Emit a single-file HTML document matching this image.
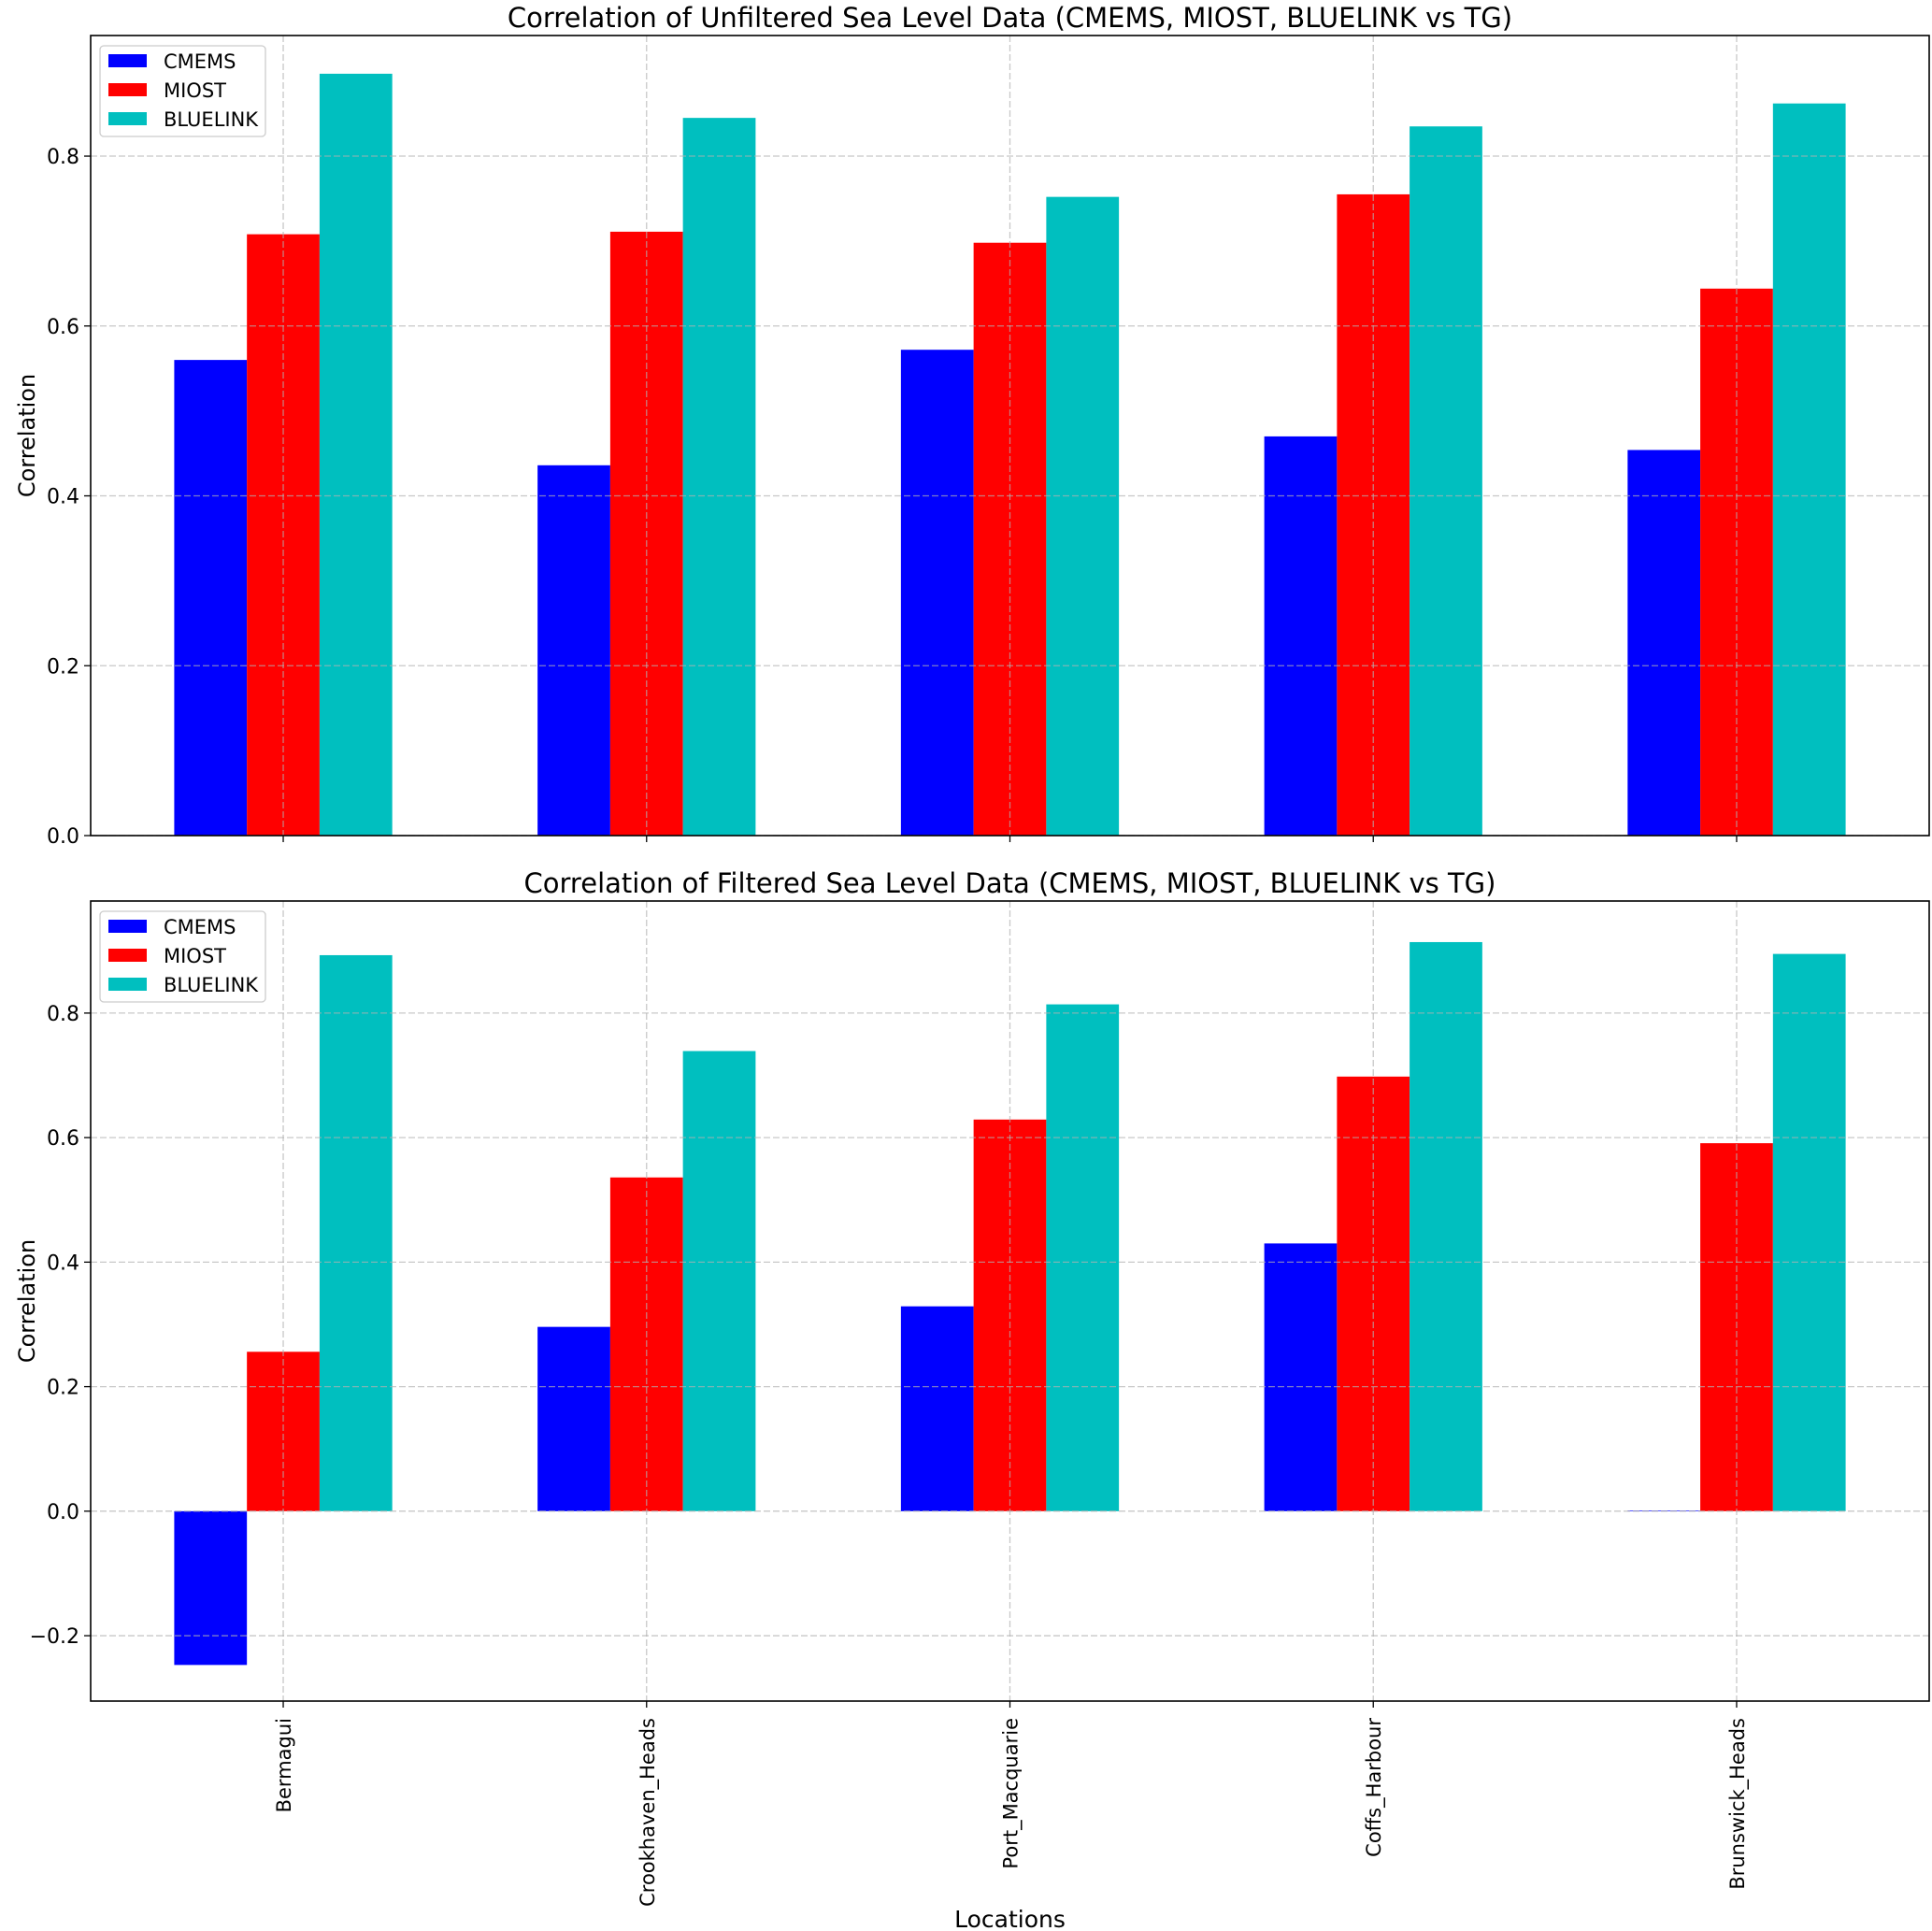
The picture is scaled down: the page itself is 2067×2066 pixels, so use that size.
<!DOCTYPE html>
<html><head><meta charset="utf-8"><style>
html,body{margin:0;padding:0;background:#fff}
svg{display:block;font-family:"DejaVu Sans","Liberation Sans",sans-serif}
</style></head><body>
<svg id="chart" width="2067" height="2066" viewBox="0 0 2067 2066" xmlns="http://www.w3.org/2000/svg"></svg>
<script>
const categories = ["Bermagui","Crookhaven_Heads","Port_Macquarie","Coffs_Harbour","Brunswick_Heads"];
const seriesNames = ["CMEMS","MIOST","BLUELINK"];
const unfilteredCMEMS = [0.560,0.436,0.572,0.470,0.454];
const unfilteredMIOST = [0.708,0.711,0.698,0.755,0.644];
const unfilteredBLUELINK = [0.897,0.845,0.752,0.835,0.862];
const filteredCMEMS = [-0.247,0.296,0.329,0.430,0.001];
const filteredMIOST = [0.256,0.536,0.629,0.698,0.591];
const filteredBLUELINK = [0.893,0.739,0.814,0.914,0.895];
const topTicks = [0.0,0.2,0.4,0.6,0.8];
const bottomTicks = [-0.2,0.0,0.2,0.4,0.6,0.8];
const colors = ["#0000ff","#ff0000","#00bfbf"];

const svg = document.getElementById('chart');
const NS = 'http://www.w3.org/2000/svg';
function mk(tag, attrs, parent){const e=document.createElementNS(NS,tag);for(const k in attrs)e.setAttribute(k,attrs[k]);(parent||svg).appendChild(e);return e;}

const L=97, R=2064, xmin=-0.53, xmax=4.53;
function xs(v){return L+(v-xmin)/(xmax-xmin)*(R-L);}

function panel(cfg){
  const g=mk('g',{});
  
  
  const ys=v=>cfg.bot-(v-cfg.ymin)/(cfg.ymax-cfg.ymin)*(cfg.bot-cfg.top);
  // bars
  cfg.series.forEach((arr,s)=>{
    arr.forEach((v,i)=>{
      const x0=xs(i+(s-1)*0.2-0.1), x1=xs(i+(s-1)*0.2+0.1);
      const y0=ys(0), y1=ys(v);
      const b=mk('rect',{x:x0,y:Math.min(y0,y1),width:x1-x0,height:Math.max(Math.abs(y1-y0),0.5),fill:colors[s]},g);
      
      
    });
  });
  // grid
  categories.forEach((c,i)=>{
    const x=xs(i);
    const gl=mk('line',{x1:x,x2:x,y1:cfg.top,y2:cfg.bot,stroke:'#b0b0b0','stroke-width':1.3,'stroke-dasharray':'7,3','stroke-opacity':0.7},g);
    
    
  });
  cfg.ticks.forEach(t=>{
    const y=ys(t);
    const gl=mk('line',{x1:L,x2:R,y1:y,y2:y,stroke:'#b0b0b0','stroke-width':1.3,'stroke-dasharray':'7,3','stroke-opacity':0.7},g);
    
    
  });
  // frame
  const fr=mk('rect',{x:L,y:cfg.top,width:R-L,height:cfg.bot-cfg.top,fill:'none',stroke:'#000','stroke-width':1.6},g);
  
  
  // y ticks
  cfg.ticks.forEach(t=>{
    const y=ys(t);
    mk('line',{x1:L-7,x2:L,y1:y,y2:y,stroke:'#000','stroke-width':1.3},g);
    const tx=mk('text',{x:L-12,y:y+8,'text-anchor':'end','font-size':22,fill:'#000'},g);
    tx.textContent=(t<0?'\u2212':'')+Math.abs(t).toFixed(1);
    
    
  });
  // x ticks
  categories.forEach((c,i)=>{
    const x=xs(i);
    mk('line',{x1:x,x2:x,y1:cfg.bot,y2:cfg.bot+7,stroke:'#000','stroke-width':1.3},g);
    if(cfg.labels){
      const tx=mk('text',{x:0,y:0,'text-anchor':'end','font-size':21,fill:'#000',transform:`translate(${x+8},${cfg.bot+18}) rotate(-90)`},g);
      tx.textContent=c;
      
      
    }
  });
  // title
  const ti=mk('text',{x:(L+R)/2,y:cfg.top-9,'text-anchor':'middle','font-size':29,fill:'#000'},g);
  ti.textContent=cfg.title;
  
  
  // y label
  const yl=mk('text',{x:0,y:0,'text-anchor':'middle','font-size':24,fill:'#000',transform:`translate(37,${(cfg.top+cfg.bot)/2}) rotate(-90)`},g);
  yl.textContent='Correlation';
  
  
  // legend
  const lg=mk('g',{},g);
  
  
  mk('rect',{x:107,y:cfg.top+11,width:177,height:97,rx:4,fill:'#fff','fill-opacity':0.8,stroke:'#cccccc','stroke-width':1.3},lg);
  seriesNames.forEach((n,s)=>{
    const cy=cfg.top+27+s*31;
    const p=mk('rect',{x:116,y:cy-7,width:41,height:14,fill:colors[s]},lg);
    
    
    const t=mk('text',{x:175,y:cy+8,'font-size':21,fill:'#000'},lg);
    t.textContent=n;
    
    
  });
}

panel({name:'unfiltered-panel',top:38,bot:894,ymin:0,ymax:0.942,ticks:topTicks,
  series:[unfilteredCMEMS,unfilteredMIOST,unfilteredBLUELINK],labels:false,
  title:'Correlation of Unfiltered Sea Level Data (CMEMS, MIOST, BLUELINK vs TG)'});
panel({name:'filtered-panel',top:964,bot:1820,ymin:-0.305,ymax:0.980,ticks:bottomTicks,
  series:[filteredCMEMS,filteredMIOST,filteredBLUELINK],labels:true,
  title:'Correlation of Filtered Sea Level Data (CMEMS, MIOST, BLUELINK vs TG)'});

const xl=mk('text',{x:(L+R)/2,y:2062,'text-anchor':'middle','font-size':25,fill:'#000'});
xl.textContent='Locations';


</script>
</body></html>
